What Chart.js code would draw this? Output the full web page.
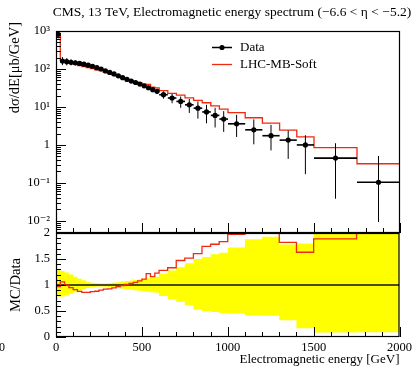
<!DOCTYPE html>
<html>
<head>
<meta charset="utf-8">
<script src="https://cdn.jsdelivr.net/npm/chart.js@4.4.0/dist/chart.umd.min.js"></script>
<style>
  html, body { margin: 0; padding: 0; background: #fff; }
  #wrap { position: relative; width: 415px; height: 367px; }
  #wrap canvas { position: absolute; left: 0; top: 0; }
</style>
</head>
<body>
<div id="wrap">
  <canvas id="specChart" width="415" height="367"></canvas>
  <canvas id="ratioChart" width="415" height="367"></canvas>
</div>
<script>
// ---- binning and values ----
const binEdges = [
  0, 25, 50, 75, 100, 125, 150, 175, 200, 225, 250, 275, 300, 325, 350, 375,
  400, 425, 450, 475, 500, 525, 550, 575, 600,
  650, 700, 750, 800, 850, 900, 950, 1000,
  1100, 1200, 1300, 1400, 1500, 1750, 2000
];

// measured cross section, μb/GeV
const dataValues = [
  820, 162, 156, 150, 145, 140, 134, 126, 118, 108, 100, 89, 81, 74, 66, 59,
  53, 48, 44, 40, 36, 32, 28.6, 25.8,
  21, 17.2, 14, 11.4, 9.3, 7.4, 6.0, 4.8,
  3.6, 2.5, 1.75, 1.34, 1.0, 0.45, 0.104
];

// relative uncertainties on the measurement (up / down)
const dataErrUp = [
  0.30, 0.27, 0.24, 0.20, 0.16, 0.12, 0.09, 0.06, 0.045, 0.035, 0.03, 0.03, 0.035, 0.045, 0.055, 0.065,
  0.075, 0.085, 0.095, 0.11, 0.12, 0.13, 0.145, 0.16,
  0.22, 0.28, 0.34, 0.42, 0.50, 0.54, 0.59, 0.62,
  0.72, 0.88, 0.93, 0.78, 0.80, 1.46, 3.9
];
const dataErrDown = [
  0.22, 0.22, 0.20, 0.17, 0.14, 0.11, 0.08, 0.06, 0.045, 0.035, 0.03, 0.035, 0.04, 0.05, 0.06, 0.07,
  0.08, 0.09, 0.10, 0.11, 0.12, 0.13, 0.14, 0.15,
  0.21, 0.27, 0.32, 0.39, 0.47, 0.50, 0.52, 0.54,
  0.55, 0.585, 0.59, 0.68, 0.83, 0.915, 0.91
];

// LHC-MB-Soft prediction, μb/GeV
const mcValues = [
  795, 172, 156, 142.5, 132, 123, 115, 108, 103, 95, 90, 82, 75, 70, 64, 58.4,
  53.5, 49.4, 46.2, 43.2, 40, 39, 33.2, 31.7,
  26.9, 22.9, 20.6, 17.3, 14.9, 12.9, 10.7, 8.8,
  7.1, 5.2, 3.73, 2.44, 1.63, 0.85, 0.32
];

const specTickValues = [1e-2, 1e-1, 1, 10, 100, 1000];
const specTickLabels = ['10⁻²', '10⁻¹', '1', '10¹', '10²', '10³'];
const ratioTickValues = [0, 0.5, 1, 1.5, 2];
const ratioTickLabels = ['0', '0.5', '1', '1.5', '2'];
const xTickValues = [0, 500, 1000, 1500, 2000];
const xTickLabels = ['0', '500', '1000', '1500', '2000'];

const SERIF = '"Liberation Serif", "DejaVu Serif", serif';
const RED = '#ee2a10';
const SPEC_MIN = 4.8e-3;

Chart.defaults.font.family = SERIF;
Chart.defaults.color = '#000';

const binCenters = dataValues.map((_, i) => (binEdges[i] + binEdges[i + 1]) / 2);
// histogram outline: one point per left bin edge, plus the closing edge
const stepPoints = vals => binEdges.map((e, i) => ({ x: e, y: vals[Math.min(i, vals.length - 1)] }));

// frame plus inward ticks on left and bottom
const frameTicks = {
  id: 'frameTicks',
  afterDatasetsDraw(chart, args, opts) {
    const { ctx, chartArea: a, scales: { x, y } } = chart;
    ctx.save();
    ctx.strokeStyle = '#000';
    ctx.lineWidth = 1;
    const seg = (x1, y1, x2, y2) => { ctx.beginPath(); ctx.moveTo(x1, y1); ctx.lineTo(x2, y2); ctx.stroke(); };
    for (let v = 0; v <= 2000; v += 100) {
      const px = Math.round(x.getPixelForValue(v)) + 0.5;
      seg(px, a.bottom, px, a.bottom - (v % 500 === 0 ? 10 : 5));
    }
    opts.major.forEach(v => {
      const py = Math.round(y.getPixelForValue(v)) + 0.5;
      seg(a.left, py, a.left + 10, py);
    });
    opts.minor.forEach(v => {
      const py = Math.round(y.getPixelForValue(v)) + 0.5;
      if (py > a.top && py < a.bottom) seg(a.left, py, a.left + 5, py);
    });
    ctx.lineWidth = 1.2;
    ctx.strokeRect(a.left + 0.5, a.top + 0.5, a.right - a.left - 1, a.bottom - a.top - 1);
    ctx.restore();
  }
};

// vertical and horizontal error bars on the data points
const errorBars = {
  id: 'errorBars',
  afterDatasetsDraw(chart) {
    const { ctx, chartArea: a, scales: { x, y } } = chart;
    ctx.save();
    ctx.beginPath();
    ctx.rect(a.left, a.top, a.right - a.left, a.bottom - a.top);
    ctx.clip();
    ctx.strokeStyle = '#000';
    dataValues.forEach((v, i) => {
      const cx = x.getPixelForValue(binCenters[i]);
      const cy = y.getPixelForValue(v);
      const lo = Math.max(v * (1 - dataErrDown[i]), SPEC_MIN * 0.5);
      ctx.lineWidth = 1;
      ctx.beginPath();
      ctx.moveTo(cx, y.getPixelForValue(v * (1 + dataErrUp[i])));
      ctx.lineTo(cx, y.getPixelForValue(lo));
      ctx.stroke();
      ctx.lineWidth = 1.6;
      ctx.beginPath();
      ctx.moveTo(x.getPixelForValue(binEdges[i]), cy);
      ctx.lineTo(x.getPixelForValue(binEdges[i + 1]), cy);
      ctx.stroke();
    });
    ctx.restore();
  }
};

// title, legend and the rotated y label of the upper panel
const specText = {
  id: 'specText',
  afterDraw(chart) {
    const { ctx, chartArea: a } = chart;
    ctx.save();
    ctx.fillStyle = '#000';
    ctx.textBaseline = 'middle';
    ctx.font = '13.5px ' + SERIF;
    ctx.textAlign = 'center';
    ctx.fillText('CMS, 13 TeV, Electromagnetic energy spectrum (−6.6 < η < −5.2)', (a.left + a.right) / 2 + 4, 12);

    // legend
    ctx.font = '13px ' + SERIF;
    ctx.textAlign = 'left';
    ctx.fillText('Data', 240, 48);
    ctx.fillText('LHC-MB-Soft', 240, 65);
    ctx.strokeStyle = '#000';
    ctx.lineWidth = 1.5;
    ctx.beginPath(); ctx.moveTo(212, 47.5); ctx.lineTo(232, 47.5); ctx.stroke();
    ctx.beginPath(); ctx.arc(222, 47.5, 2.6, 0, Math.PI * 2); ctx.fill();
    ctx.strokeStyle = RED;
    ctx.lineWidth = 1.3;
    ctx.beginPath(); ctx.moveTo(212, 64.5); ctx.lineTo(232, 64.5); ctx.stroke();

    // y label sits at the top end of the axis
    ctx.font = '14.5px ' + SERIF;
    ctx.translate(15, 22);
    ctx.rotate(-Math.PI / 2);
    ctx.textAlign = 'right';
    ctx.fillText('dσ/dE[μb/GeV]', 0, 0);
    ctx.restore();
  }
};

const ratioText = {
  id: 'ratioText',
  afterDraw(chart) {
    const { ctx } = chart;
    ctx.save();
    ctx.fillStyle = '#000';
    ctx.font = '12px ' + SERIF;
    ctx.textBaseline = 'middle';
    ctx.textAlign = 'center';
    ctx.fillText('0', 2, 348);
    ctx.restore();
  }
};

const specMinor = [];
for (let d = 1e-3; d < 1000; d *= 10) {
  for (let k = 2; k <= 9; k++) specMinor.push(k * d);
}
const ratioMinor = [];
for (let k = 1; k < 20; k++) if (k % 5) ratioMinor.push(k / 10);

new Chart(document.getElementById('specChart'), {
  type: 'scatter',
  data: {
    datasets: [
      {
        label: 'Data',
        data: dataValues.map((v, i) => ({ x: binCenters[i], y: v })),
        pointRadius: 2.6,
        pointBackgroundColor: '#000',
        pointBorderWidth: 0
      },
      {
        type: 'line',
        label: 'LHC-MB-Soft',
        data: stepPoints(mcValues),
        stepped: true,
        borderColor: RED,
        borderWidth: 1.3,
        pointRadius: 0,
        fill: false
      }
    ]
  },
  options: {
    responsive: false,
    animation: false,
    events: [],
    layout: { padding: { top: 31, right: 15, bottom: 134, left: 0 } },
    scales: {
      x: { type: 'linear', min: 0, max: 2000, display: false },
      y: {
        type: 'logarithmic',
        min: SPEC_MIN,
        max: 1000,
        afterFit(s) { s.width = 56; },
        afterBuildTicks(s) { s.ticks = specTickValues.map(v => ({ value: v })); },
        ticks: { callback: (v, i) => specTickLabels[i], font: { size: 12.5 }, padding: 6 },
        grid: { display: false, drawTicks: false },
        border: { display: false }
      }
    },
    plugins: {
      legend: { display: false },
      tooltip: { enabled: false },
      frameTicks: { major: specTickValues, minor: specMinor }
    }
  },
  plugins: [errorBars, frameTicks, specText]
});

const ratioValues = mcValues.map((m, i) => m / dataValues[i]);

new Chart(document.getElementById('ratioChart'), {
  type: 'line',
  data: {
    datasets: [
      {
        label: 'LHC-MB-Soft',
        data: stepPoints(ratioValues),
        stepped: true,
        borderColor: RED,
        borderWidth: 1.3,
        pointRadius: 0,
        fill: false
      },
      {
        label: 'unity',
        data: [{ x: 0, y: 1 }, { x: 2000, y: 1 }],
        borderColor: '#111',
        borderWidth: 1.3,
        pointRadius: 0,
        fill: false
      },
      {
        label: 'Data band up',
        data: stepPoints(dataErrUp.map(u => 1 + u)),
        stepped: true,
        borderWidth: 0,
        pointRadius: 0,
        backgroundColor: '#ffff00',
        fill: '+1'
      },
      {
        label: 'Data band down',
        data: stepPoints(dataErrDown.map(d => 1 - d)),
        stepped: true,
        borderWidth: 0,
        pointRadius: 0,
        fill: false
      }
    ]
  },
  options: {
    responsive: false,
    animation: false,
    events: [],
    layout: { padding: { top: 233, right: 15, bottom: 0, left: 0 } },
    scales: {
      x: {
        type: 'linear',
        min: 0,
        max: 2000,
        afterFit(s) { s.height = 30; },
        afterBuildTicks(s) { s.ticks = xTickValues.map(v => ({ value: v })); },
        ticks: { callback: (v, i) => xTickLabels[i], font: { size: 12.5 }, padding: 3, maxRotation: 0, autoSkip: false },
        grid: { display: false, drawTicks: false },
        border: { display: false },
        title: { display: true, text: 'Electromagnetic energy [GeV]', align: 'end', font: { size: 13 }, padding: { top: 0, bottom: 0 } }
      },
      y: {
        type: 'linear',
        min: 0,
        max: 2,
        afterFit(s) { s.width = 56; },
        afterBuildTicks(s) { s.ticks = ratioTickValues.map(v => ({ value: v })); },
        ticks: { callback: (v, i) => ratioTickLabels[i], font: { size: 12.5 }, padding: 6 },
        grid: { display: false, drawTicks: false },
        border: { display: false },
        title: { display: true, text: 'MC/Data', font: { size: 14.5 }, padding: { top: 7, bottom: 0 } }
      }
    },
    plugins: {
      legend: { display: false },
      tooltip: { enabled: false },
      frameTicks: { major: ratioTickValues, minor: ratioMinor }
    }
  },
  plugins: [frameTicks, ratioText]
});
</script>
</body>
</html>
